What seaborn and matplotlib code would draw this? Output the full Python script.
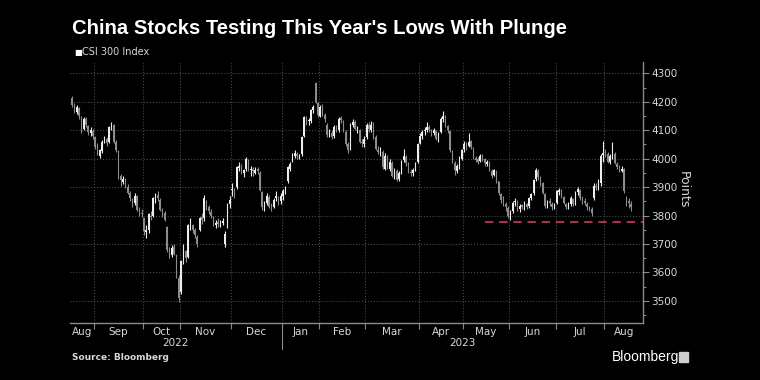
import numpy as np
import pandas as pd
import matplotlib
matplotlib.use("Agg")
import matplotlib.pyplot as plt
import matplotlib.transforms as mtransforms
from matplotlib import font_manager
import seaborn as sns

# CSI 300 Index daily candles, 18 Aug 2022 - 16 Aug 2023 (one line per month)
opens = [
    4215, 4185, 4165, 4178, 4148, 4105, 4138, 4115, 4090, 4098,
    4075, 4045, 4010, 4028, 4062, 4068, 4060, 4112, 4118, 4058, 4025, 3940, 3918, 3928, 3900, 3878, 3858, 3845, 3868, 3822, 3810,
    3790, 3742, 3748, 3800, 3798, 3855, 3872, 3855, 3815, 3808, 3760, 3675, 3662, 3688, 3660, 3580,
    3530, 3645, 3675, 3655, 3760, 3765, 3748, 3725, 3750, 3795, 3790, 3850, 3830, 3812, 3795, 3765, 3778, 3768, 3772, 3700, 3760, 3842,
    3890, 3880, 3900, 3968, 3972, 3950, 3962, 3995, 3960, 3962, 3950, 3962, 3950, 3882, 3832, 3845, 3865, 3835, 3830, 3860, 3865, 3850,
    3870, 3885, 3920, 3965, 3995, 4010, 4018, 4005, 4015, 4080, 4140, 4132, 4132, 4172, 4265, 4195,
    4150, 4185, 4155, 4120, 4080, 4092, 4078, 4112, 4100, 4142, 4130, 4095, 4050, 4035, 4118, 4128, 4100, 4100, 4058, 4050,
    4075, 4118, 4100, 4125, 4075, 4032, 4020, 4025, 3965, 4005, 3965, 3985, 3935, 3955, 3928, 3952, 3995, 4005, 3982, 3952, 3948, 3962, 3990,
    4055, 4078, 4098, 4100, 4112, 4098, 4090, 4098, 4068, 4095, 4138, 4148, 4115, 4098, 4025, 3985, 3958, 3972, 3998,
    4035, 4052, 4045, 4062, 4038, 4002, 3998, 3992, 4008, 3998, 3982, 3988, 3958, 3942, 3958, 3920, 3875, 3860, 3840, 3828,
    3798, 3815, 3848, 3852, 3822, 3838, 3828, 3842, 3832, 3862, 3878, 3928, 3958, 3932, 3915, 3875, 3830, 3852, 3842, 3828,
    3845, 3882, 3888, 3865, 3842, 3828, 3842, 3858, 3842, 3882, 3890, 3858, 3852, 3842, 3828, 3822, 3860, 3902, 3898, 3915, 4012,
    4022, 4018, 3988, 4008, 4018, 3982, 3972, 3958, 3962, 3862, 3852, 3842,
]
highs = [
    4222, 4195, 4188, 4182, 4150, 4148, 4145, 4120, 4112, 4105,
    4080, 4055, 4035, 4065, 4080, 4075, 4115, 4130, 4122, 4065, 4030, 3945, 3940, 3932, 3910, 3885, 3862, 3878, 3872, 3830, 3822,
    3792, 3768, 3810, 3815, 3865, 3880, 3885, 3860, 3825, 3815, 3762, 3690, 3695, 3700, 3665, 3590,
    3645, 3700, 3680, 3770, 3790, 3770, 3755, 3730, 3795, 3810, 3872, 3855, 3838, 3822, 3800, 3785, 3790, 3785, 3790, 3745, 3845, 3870,
    3915, 3898, 3975, 3990, 3980, 3965, 4005, 4000, 3975, 3970, 3970, 3972, 3955, 3888, 3850, 3880, 3872, 3845, 3862, 3885, 3870, 3880,
    3895, 3905, 3975, 3990, 4020, 4030, 4025, 4018, 4080, 4150, 4150, 4142, 4175, 4190, 4270, 4200,
    4190, 4192, 4162, 4125, 4105, 4100, 4118, 4120, 4145, 4150, 4135, 4100, 4060, 4125, 4140, 4135, 4115, 4105, 4070, 4078,
    4125, 4130, 4132, 4130, 4085, 4045, 4040, 4030, 4020, 4012, 4000, 3992, 3968, 3962, 3958, 3995, 4035, 4012, 3990, 3965, 3968, 3990, 4055,
    4090, 4100, 4110, 4128, 4118, 4105, 4108, 4102, 4095, 4145, 4168, 4152, 4120, 4102, 4030, 3992, 3982, 4010, 4035,
    4062, 4060, 4090, 4065, 4040, 4010, 4005, 4015, 4015, 4002, 3995, 3992, 3962, 3965, 3960, 3922, 3880, 3868, 3848, 3832,
    3818, 3850, 3862, 3855, 3840, 3842, 3850, 3845, 3865, 3880, 3930, 3968, 3962, 3940, 3918, 3878, 3856, 3860, 3848, 3845,
    3890, 3898, 3892, 3868, 3845, 3848, 3868, 3862, 3885, 3902, 3892, 3870, 3860, 3848, 3835, 3830, 3915, 3915, 3930, 4015, 4062,
    4035, 4025, 4018, 4060, 4022, 3990, 3978, 3975, 3968, 3868, 3860, 3850,
]
lows = [
    4180, 4160, 4158, 4140, 4092, 4100, 4110, 4085, 4080, 4070,
    4035, 4012, 4002, 4020, 4055, 4045, 4055, 4100, 4055, 4022, 3930, 3905, 3910, 3898, 3875, 3852, 3830, 3838, 3815, 3798, 3795,
    3730, 3720, 3740, 3785, 3795, 3845, 3850, 3815, 3795, 3780, 3670, 3650, 3655, 3660, 3580, 3495,
    3525, 3630, 3635, 3650, 3750, 3740, 3722, 3690, 3745, 3770, 3780, 3820, 3805, 3790, 3762, 3755, 3760, 3760, 3765, 3690, 3755, 3825,
    3868, 3860, 3895, 3955, 3945, 3935, 3955, 3955, 3940, 3940, 3945, 3945, 3885, 3820, 3815, 3838, 3825, 3815, 3825, 3852, 3838, 3842,
    3855, 3875, 3915, 3958, 3990, 4002, 4000, 3998, 4010, 4075, 4120, 4118, 4125, 4160, 4195, 4145,
    4145, 4150, 4130, 4075, 4075, 4068, 4072, 4095, 4095, 4125, 4095, 4045, 4020, 4030, 4110, 4100, 4090, 4055, 4040, 4040,
    4070, 4095, 4095, 4070, 4030, 4015, 4010, 3962, 3960, 3962, 3958, 3935, 3930, 3920, 3920, 3945, 3990, 3975, 3950, 3938, 3940, 3955, 3985,
    4050, 4070, 4085, 4095, 4095, 4080, 4085, 4065, 4060, 4090, 4130, 4110, 4090, 4025, 3985, 3942, 3950, 3965, 3995,
    4025, 4030, 4040, 4035, 4000, 3988, 3982, 3988, 3992, 3975, 3975, 3955, 3932, 3938, 3915, 3872, 3845, 3835, 3815, 3792,
    3785, 3810, 3835, 3815, 3812, 3822, 3820, 3822, 3828, 3855, 3872, 3920, 3925, 3905, 3875, 3825, 3825, 3835, 3820, 3822,
    3842, 3872, 3862, 3840, 3822, 3822, 3835, 3835, 3838, 3872, 3855, 3840, 3838, 3820, 3815, 3800, 3855, 3890, 3890, 3905, 3990,
    4005, 3985, 3982, 4000, 3980, 3962, 3952, 3952, 3880, 3835, 3828, 3815,
]
closes = [
    4190, 4170, 4180, 4150, 4100, 4140, 4120, 4095, 4100, 4080,
    4040, 4020, 4030, 4060, 4070, 4055, 4110, 4120, 4060, 4030, 3935, 3925, 3930, 3905, 3880, 3860, 3840, 3870, 3820, 3805, 3805,
    3745, 3750, 3805, 3795, 3860, 3870, 3860, 3820, 3810, 3785, 3680, 3660, 3685, 3665, 3585, 3510,
    3640, 3680, 3650, 3765, 3770, 3750, 3730, 3700, 3790, 3785, 3860, 3835, 3815, 3800, 3770, 3775, 3770, 3775, 3780, 3735, 3840, 3855,
    3895, 3875, 3970, 3975, 3955, 3960, 4000, 3965, 3960, 3955, 3960, 3955, 3890, 3830, 3840, 3870, 3830, 3825, 3855, 3870, 3845, 3870,
    3885, 3890, 3970, 3980, 4010, 4020, 4010, 4010, 4075, 4145, 4135, 4135, 4170, 4180, 4200, 4155,
    4180, 4160, 4140, 4085, 4095, 4075, 4110, 4105, 4140, 4135, 4100, 4050, 4030, 4120, 4130, 4105, 4105, 4060, 4055, 4070,
    4120, 4105, 4120, 4080, 4035, 4025, 4030, 3970, 4010, 3970, 3990, 3940, 3960, 3925, 3950, 3990, 4010, 3985, 3955, 3950, 3960, 3985, 4050,
    4080, 4095, 4100, 4110, 4100, 4095, 4100, 4070, 4090, 4140, 4150, 4120, 4100, 4030, 3990, 3960, 3975, 4000, 4030,
    4050, 4040, 4060, 4040, 4005, 3995, 3990, 4010, 4000, 3985, 3990, 3960, 3940, 3960, 3925, 3880, 3855, 3845, 3830, 3800,
    3810, 3845, 3850, 3825, 3835, 3830, 3845, 3830, 3860, 3875, 3925, 3960, 3935, 3920, 3880, 3835, 3850, 3845, 3830, 3840,
    3885, 3890, 3870, 3845, 3830, 3840, 3860, 3840, 3880, 3895, 3860, 3855, 3845, 3830, 3825, 3810, 3905, 3900, 3920, 4010, 4020,
    4020, 3990, 4010, 4020, 3985, 3970, 3960, 3965, 3885, 3855, 3845, 3830,
]
holidays = ["2022-09-12", "2022-10-03", "2022-10-04", "2022-10-05", "2022-10-06",
            "2022-10-07", "2023-01-02", "2023-01-23", "2023-01-24", "2023-01-25",
            "2023-01-26", "2023-01-27", "2023-04-05", "2023-05-01", "2023-05-02",
            "2023-05-03", "2023-06-22", "2023-06-23"]
year_low = 3778
year_low_from = "2023-05-17"

days = pd.bdate_range("2022-08-18", "2023-08-16")
days = days[~days.isin(pd.to_datetime(holidays))]
df = pd.DataFrame({"date": days, "open": opens, "high": highs,
                   "low": lows, "close": closes})
df["x"] = np.arange(len(df))

# month boundaries on the trading-day axis
month = df["date"].dt.to_period("M")
starts = df.index[month != month.shift()].tolist()
xlim = (-0.85, len(df) + 4.2)
bounds = [s - 0.5 for s in starts[1:]]
edges = [xlim[0]] + bounds + [xlim[1]]
centers = [(a + b) / 2 for a, b in zip(edges[:-1], edges[1:])]
month_labels = df.loc[starts, "date"].dt.strftime("%b").tolist()
jan = df.index[df["date"].dt.year == 2023][0] - 0.5

sns.set_theme(style="dark", rc={
    "figure.facecolor": "black", "axes.facecolor": "black",
    "axes.edgecolor": "#8a8a8a", "grid.color": "#4a4a4a",
    "grid.linestyle": ":", "grid.linewidth": 0.8,
})
installed = {f.name for f in font_manager.fontManager.ttflist}
narrow = "Liberation Sans Narrow" if "Liberation Sans Narrow" in installed else "DejaVu Sans"
plt.rcParams["font.family"] = [narrow, "DejaVu Sans"]

fig = plt.figure(figsize=(7.6, 3.8), dpi=100)
ax = fig.add_axes([70 / 760, 57 / 380, 573 / 760, 261 / 380])

up = df["close"] >= df["open"]
col = np.where(up, "#ededed", "#8c8c8c")
ax.vlines(df["x"], df["low"], df["high"], colors=col, lw=0.8, zorder=3)
ax.bar(df["x"], np.maximum((df["close"] - df["open"]).abs(), 3),
       bottom=np.minimum(df["open"], df["close"]), width=0.62,
       color=col, linewidth=0, zorder=3)

x0 = df.index[df["date"] == year_low_from][0]
ax.hlines(year_low, x0, xlim[1], colors="#d23c55",
          linestyles=(0, (5, 3.5)), lw=1.2, zorder=2)

ax.set_xlim(*xlim)
ax.set_ylim(3422, 4340)
ax.yaxis.tick_right()
ax.set_yticks(range(3500, 4301, 100))
ax.set_yticks(range(3450, 4340, 100), minor=True)
ax.set_xticks(centers, month_labels)
ax.set_xticks(bounds, minor=True)
ax.grid(False)
ax.yaxis.grid(True, which="major")
ax.xaxis.grid(True, which="minor")
for s in ["top", "left"]:
    ax.spines[s].set_visible(False)
for s in ["right", "bottom"]:
    ax.spines[s].set_color("#8a8a8a")
    ax.spines[s].set_linewidth(1.0)

ax.tick_params(axis="x", which="major", length=0, pad=3,
               labelsize=7.5, labelcolor="#d8d8d8")
ax.tick_params(axis="x", which="minor", length=4, width=0.8,
               color="#8a8a8a", bottom=True)
ax.tick_params(axis="y", which="both", right=True, left=False,
               color="#8a8a8a", width=0.8, labelsize=7.5,
               labelcolor="#d8d8d8", pad=2)
ax.tick_params(axis="y", which="major", length=4)
ax.tick_params(axis="y", which="minor", length=2.5)

trans = mtransforms.blended_transform_factory(ax.transData, ax.transAxes)
ax.text((xlim[0] + jan) / 2, -0.078, "2022", transform=trans, ha="center",
        va="center", fontsize=7.5, color="#d8d8d8")
ax.text((jan + xlim[1]) / 2, -0.078, "2023", transform=trans, ha="center",
        va="center", fontsize=7.5, color="#d8d8d8")
ax.plot([jan, jan], [0, -0.1], transform=trans, clip_on=False,
        color="#8a8a8a", lw=0.8)

fig.text(683 / 760, 1 - 190 / 380, "Points", rotation=270, ha="center",
         va="center", fontsize=9, color="#d8d8d8")
fig.text(72 / 760, 1 - 28 / 380, "China Stocks Testing This Year's Lows With Plunge",
         fontsize=14.6, fontweight="bold", color="white", va="center",
         family=["Liberation Sans", "DejaVu Sans"])
fig.text(74 / 760, 1 - 52 / 380, "\u25a0", fontsize=6, color="white",
         va="center", family="DejaVu Sans")
fig.text(82 / 760, 1 - 52 / 380, "CSI 300 Index", fontsize=7,
         color="#d8d8d8", va="center")
fig.text(72 / 760, 1 - 357 / 380, "Source: Bloomberg", fontsize=6.5,
         fontweight="bold", color="#d8d8d8", va="center",
         family=["DejaVu Sans"])
fig.text(612 / 760, 1 - 357 / 380, "Bloomberg", fontsize=10,
         color="white", va="center", family=["Liberation Sans", "DejaVu Sans"])
fig.patches.append(plt.Rectangle((679 / 760, 1 - 362 / 380), 9 / 760, 10 / 380,
                                 transform=fig.transFigure, color="#cfcfcf"))

fig.savefig("out.png", dpi=100, facecolor="black")
